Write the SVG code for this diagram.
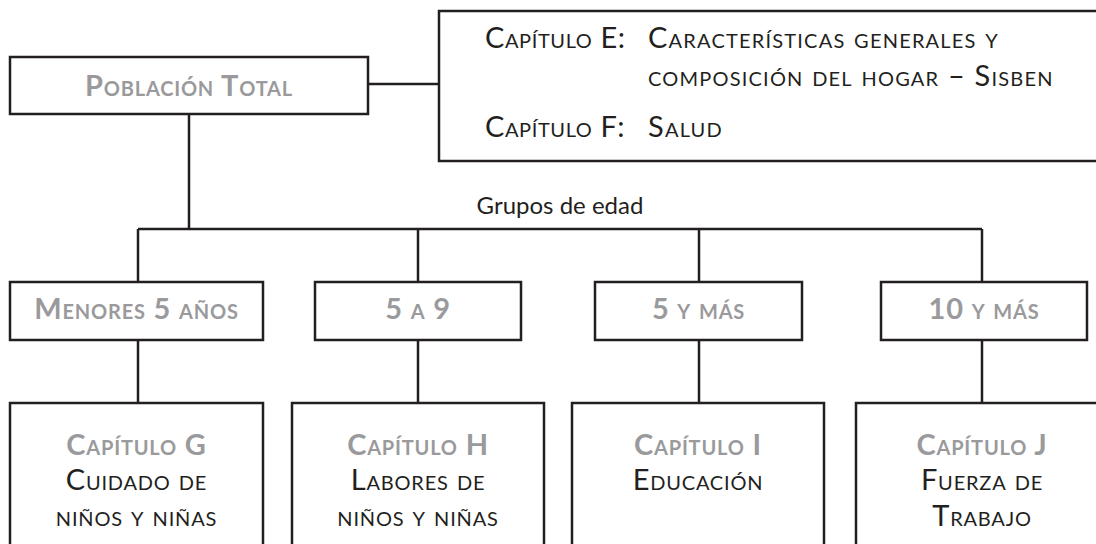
<svg xmlns="http://www.w3.org/2000/svg" width="1096" height="544" viewBox="0 0 1096 544">
<style>
  .box { fill: #ffffff; stroke: #231f20; stroke-width: 2.5; }
  .conn { stroke: #231f20; stroke-width: 2.5; fill: none; }
  text { font-family: "Lato", "Open Sans", "DejaVu Sans", sans-serif; font-variant: small-caps; }
  .lbl { fill: #9a9a9c; font-weight: bold; font-size: 29px; letter-spacing: 0.8px; text-anchor: middle; }
  .sub { fill: #231f20; font-size: 29px; letter-spacing: 0.8px; text-anchor: middle; }
  .info { fill: #231f20; font-size: 29px; letter-spacing: 0.6px; }
  .wide { letter-spacing: 1.2px; }
  .grp { fill: #231f20; font-size: 24px; font-variant: normal; text-anchor: middle; }
</style>
<rect width="1096" height="544" fill="#ffffff"/>
<g id="connectors">
  <line class="conn" x1="368" y1="84" x2="439" y2="84"/>
  <line class="conn" x1="189" y1="114" x2="189" y2="229"/>
  <line class="conn" x1="138" y1="229" x2="982" y2="229"/>
  <line class="conn" x1="138" y1="229" x2="138" y2="282"/>
  <line class="conn" x1="418" y1="229" x2="418" y2="282"/>
  <line class="conn" x1="699" y1="229" x2="699" y2="282"/>
  <line class="conn" x1="982" y1="229" x2="982" y2="282"/>
  <line class="conn" x1="138" y1="340" x2="138" y2="403"/>
  <line class="conn" x1="418" y1="340" x2="418" y2="403"/>
  <line class="conn" x1="699" y1="340" x2="699" y2="403"/>
  <line class="conn" x1="982" y1="340" x2="982" y2="403"/>
  <text class="grp" x="560" y="214">Grupos de edad</text>
</g>
<g id="poblacion">
  <rect class="box" x="10" y="57" width="358" height="57"/>
  <text class="lbl" x="189" y="96">Población Total</text>
</g>
<g id="capitulos-ef">
  <rect class="box" x="439" y="11" width="700" height="150"/>
  <text class="info" x="485" y="48">Capítulo E:</text>
  <text class="info wide" x="648" y="48">Características generales y</text>
  <text class="info wide" x="648" y="86">composición del hogar – Sisben</text>
  <text class="info" x="485" y="137">Capítulo F:</text>
  <text class="info wide" x="648" y="137">Salud</text>
</g>
<g id="menores5">
  <rect class="box" x="10" y="282" width="253" height="58"/>
  <text class="lbl" x="136.5" y="319">Menores 5 años</text>
</g>
<g id="g5a9">
  <rect class="box" x="315" y="282" width="206" height="58"/>
  <text class="lbl" x="418" y="319">5 a 9</text>
</g>
<g id="g5ymas">
  <rect class="box" x="595" y="282" width="207" height="58"/>
  <text class="lbl" x="698.5" y="319">5 y más</text>
</g>
<g id="g10ymas">
  <rect class="box" x="881" y="282" width="206" height="58"/>
  <text class="lbl" x="984" y="319">10 y más</text>
</g>
<g id="capG">
  <rect class="box" x="10" y="403" width="253" height="160"/>
  <text class="lbl" x="136.5" y="455">Capítulo G</text>
  <text class="sub" x="136.5" y="490">Cuidado de</text>
  <text class="sub" x="136.5" y="526">niños y niñas</text>
</g>
<g id="capH">
  <rect class="box" x="292" y="403" width="252" height="160"/>
  <text class="lbl" x="418" y="455">Capítulo H</text>
  <text class="sub" x="418" y="490">Labores de</text>
  <text class="sub" x="418" y="526">niños y niñas</text>
</g>
<g id="capI">
  <rect class="box" x="572" y="403" width="252" height="160"/>
  <text class="lbl" x="698" y="455">Capítulo I</text>
  <text class="sub" x="698" y="490">Educación</text>
</g>
<g id="capJ">
  <rect class="box" x="856" y="403" width="252" height="160"/>
  <text class="lbl" x="982" y="455">Capítulo J</text>
  <text class="sub" x="982" y="490">Fuerza de</text>
  <text class="sub" x="982" y="526">Trabajo</text>
</g>
</svg>
